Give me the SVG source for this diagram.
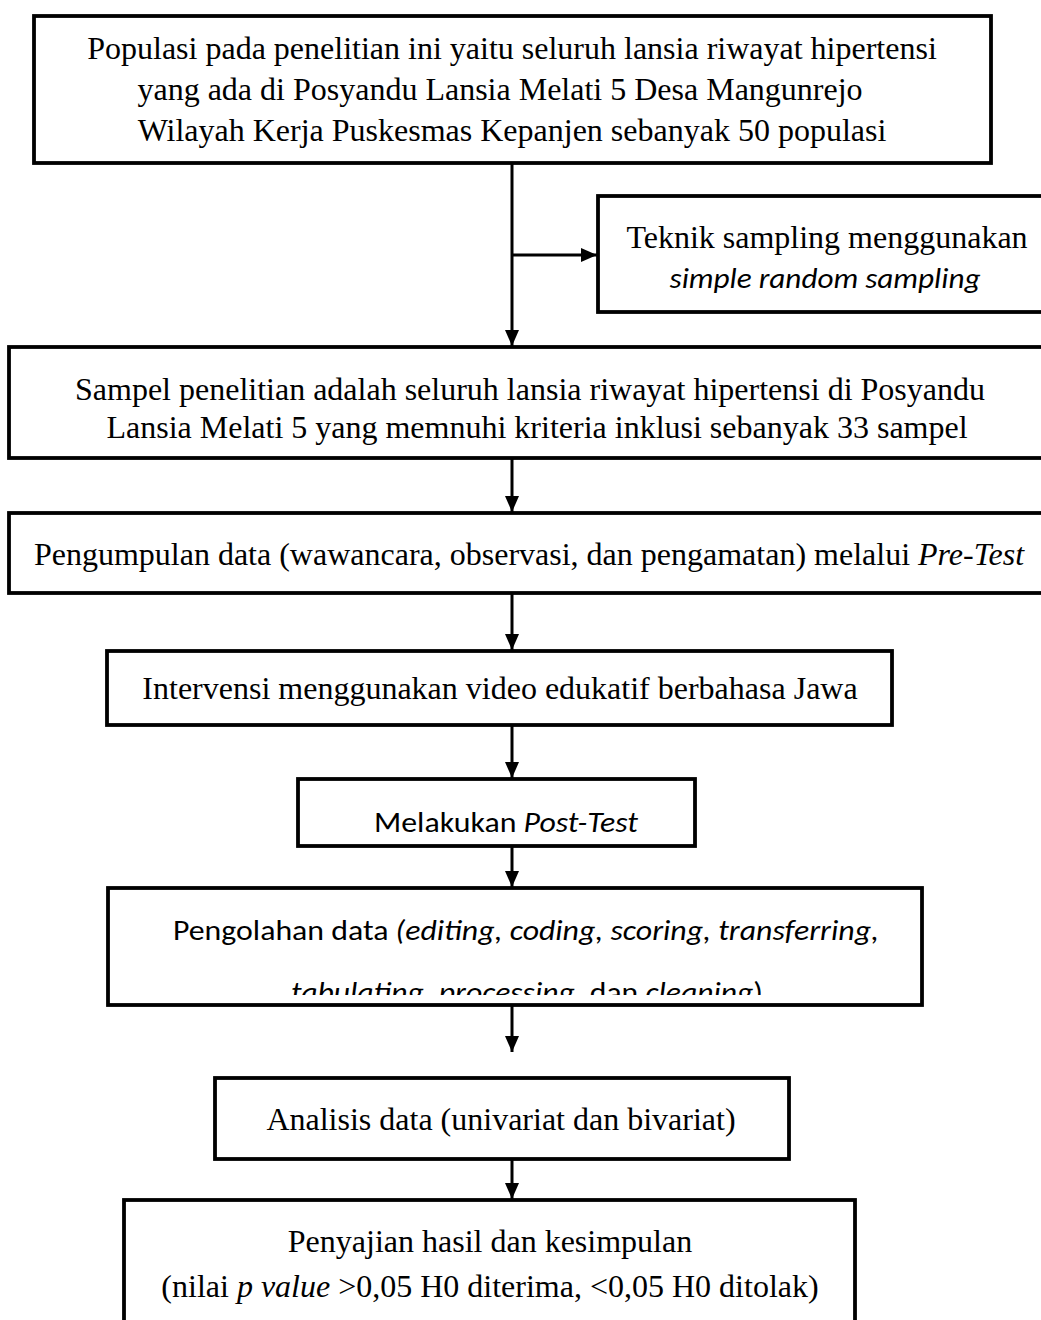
<svg xmlns="http://www.w3.org/2000/svg" width="1041" height="1320" viewBox="0 0 1041 1320">
<style>
.box{fill:#fff;stroke:#000;stroke-width:3.8}
.t{font-family:"Liberation Serif","Times New Roman",serif;font-size:32px;fill:#000}
.c{font-family:Carlito,Lato,"Liberation Sans",sans-serif;font-size:28.5px;fill:#000}
.i{font-style:italic}
.mid{text-anchor:middle}
.edge{stroke:#000;stroke-width:3;fill:none}
</style>
<defs>
<marker id="ah" markerUnits="userSpaceOnUse" markerWidth="16" markerHeight="14" refX="16" refY="7" orient="auto" viewBox="0 0 16 14"><path d="M0,0 L16,7 L0,14 z" fill="#000"/></marker>
<clipPath id="clipOlah"><rect x="108" y="888" width="814" height="107"/></clipPath>
</defs>
<rect width="1041" height="1320" fill="#fff"/>
<g id="n-populasi">
<rect class="box" x="34" y="16" width="957" height="147"/>
<text class="t mid" x="512" y="59">Populasi pada penelitian ini yaitu seluruh lansia riwayat hipertensi</text>
<text class="t mid" x="500" y="100">yang ada di Posyandu Lansia Melati 5 Desa Mangunrejo</text>
<text class="t mid" x="512" y="141">Wilayah Kerja Puskesmas Kepanjen sebanyak 50 populasi</text>
</g>
<g id="n-sampling">
<rect class="box" x="598" y="196" width="460" height="116"/>
<text class="t mid" x="827" y="248">Teknik sampling menggunakan</text>
<text class="c i mid" x="825" y="288" textLength="311" lengthAdjust="spacingAndGlyphs">simple random sampling</text>
</g>
<g id="n-sampel">
<rect class="box" x="9" y="347" width="1050" height="111"/>
<text class="t mid" x="530" y="400">Sampel penelitian adalah seluruh lansia riwayat hipertensi di Posyandu</text>
<text class="t mid" x="537" y="438">Lansia Melati 5 yang memnuhi kriteria inklusi sebanyak 33 sampel</text>
</g>
<g id="n-pengumpulan">
<rect class="box" x="9" y="513" width="1050" height="80"/>
<text class="t mid" x="529" y="565">Pengumpulan data (wawancara, observasi, dan pengamatan) melalui <tspan class="i">Pre-Test</tspan></text>
</g>
<g id="n-intervensi">
<rect class="box" x="107" y="651" width="785" height="74"/>
<text class="t mid" x="500" y="699">Intervensi menggunakan video edukatif berbahasa Jawa</text>
</g>
<g id="n-posttest">
<rect class="box" x="298" y="779" width="397" height="67"/>
<text class="c" x="374" y="832" textLength="264" lengthAdjust="spacingAndGlyphs">Melakukan <tspan class="i">Post-Test</tspan></text>
</g>
<g id="n-pengolahan">
<rect class="box" x="108" y="888" width="814" height="117"/>
<text class="c" x="173" y="940" textLength="706" lengthAdjust="spacingAndGlyphs">Pengolahan data <tspan class="i">(editing, coding, scoring, transferring,</tspan></text>
<g clip-path="url(#clipOlah)">
<text class="c" x="291" y="1002" textLength="472" lengthAdjust="spacingAndGlyphs"><tspan class="i">tabulating, processing,</tspan> dan <tspan class="i">cleaning</tspan>)</text>
</g>
</g>
<g id="n-analisis">
<rect class="box" x="215" y="1078" width="574" height="81"/>
<text class="t mid" x="501" y="1130">Analisis data (univariat dan bivariat)</text>
</g>
<g id="n-penyajian">
<rect class="box" x="124" y="1200" width="731" height="140"/>
<text class="t mid" x="490" y="1252">Penyajian hasil dan kesimpulan</text>
<text class="t mid" x="490" y="1297">(nilai <tspan class="i">p value</tspan> &gt;0,05 H0 diterima, &lt;0,05 H0 ditolak)</text>
</g>
<g id="connectors">
<path class="edge" d="M512,163 V346" marker-end="url(#ah)"/>
<path class="edge" d="M512,255 H597" marker-end="url(#ah)"/>
<path class="edge" d="M512,458 V512" marker-end="url(#ah)"/>
<path class="edge" d="M512,593 V650" marker-end="url(#ah)"/>
<path class="edge" d="M512,725 V778" marker-end="url(#ah)"/>
<path class="edge" d="M512,846 V887" marker-end="url(#ah)"/>
<path class="edge" d="M512,1005 V1052" marker-end="url(#ah)"/>
<path class="edge" d="M512,1159 V1199" marker-end="url(#ah)"/>
</g>
</svg>
